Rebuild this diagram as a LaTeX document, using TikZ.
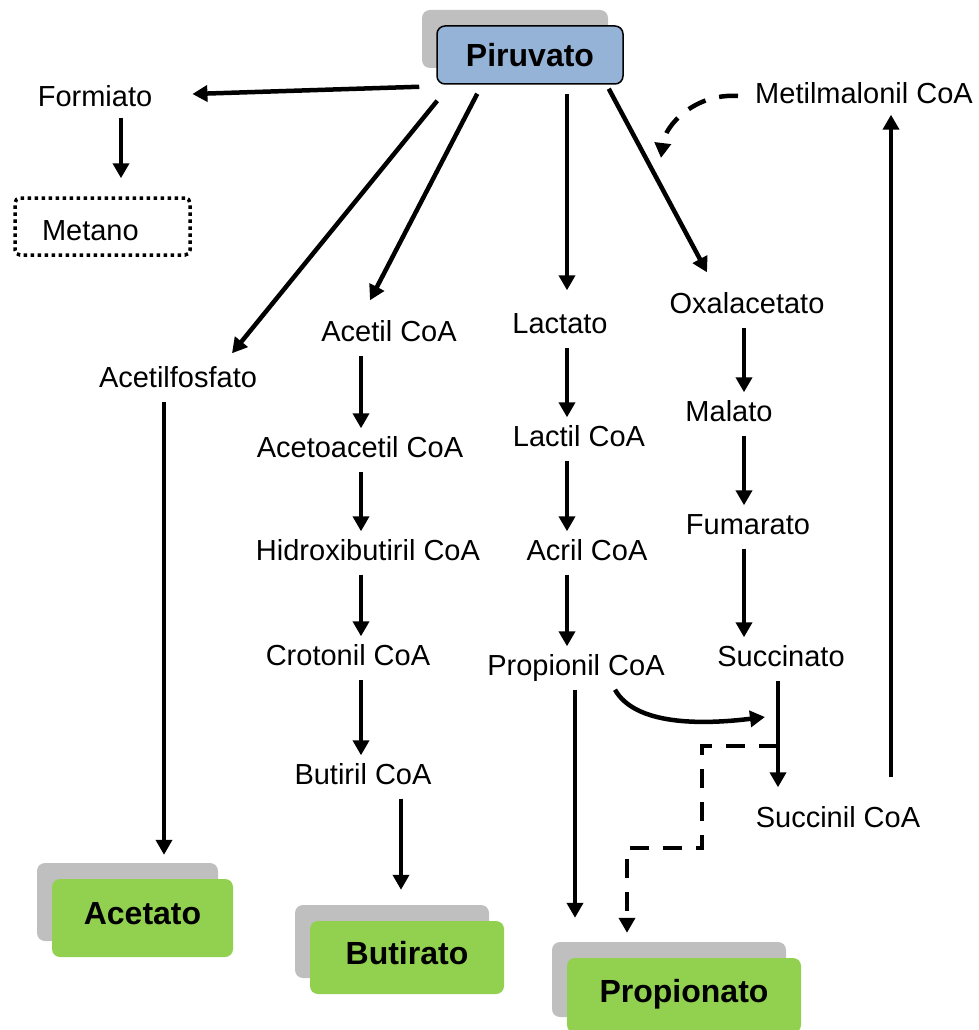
\documentclass[tikz,border=0pt]{standalone}
\usepackage{fontspec}
\setmainfont{Liberation Sans}
\usetikzlibrary{arrows.meta,shadows}

\definecolor{piruvblue}{HTML}{95B3D7}
\definecolor{prodgreen}{HTML}{92D050}
\definecolor{shadowgray}{HTML}{BFBFBF}

\begin{document}
\begin{tikzpicture}[x=1pt,y=-1pt,
  lbl/.style={font=\fontsize{29}{34}\selectfont, inner xsep=2pt, inner ysep=8pt, text height=21pt, text depth=6pt},
  box/.style={rounded corners=8pt, font=\fontsize{32}{38}\selectfont\bfseries,
    drop shadow={shadow xshift=-15pt,shadow yshift=16pt,fill=shadowgray,opacity=1}},
  product/.style={box, fill=prodgreen, text height=23pt, text depth=10pt},
  arr/.style={line width=4.5pt, -{Triangle[length=15pt,width=16pt]}},
  dasharr/.style={arr, dash pattern=on 19pt off 14pt}]
\useasboundingbox (0,0) rectangle (979,1030);

\node[box, draw, line width=1.5pt, fill=piruvblue, minimum width=186pt, minimum height=58pt] (piruvato) at (530,55) {Piruvato};
\node[product, minimum width=181pt, minimum height=78pt] (acetato) at (142.5,918) {Acetato};
\node[product, minimum width=194pt, minimum height=73pt] (butirato) at (407,957.5) {Butirato};
\node[product, minimum width=234pt, minimum height=75pt] (propionato) at (684,995.5) {Propionato};

\node[lbl] (formiato) at (95,99) {Formiato};
\node[lbl, draw, line width=3.5pt, dash pattern=on 3.5pt off 3.5pt, rounded corners=5pt, text height=34pt,
  minimum height=57pt, text width=121pt, inner xsep=27pt, align=left] (metano) at (102.5,226.5) {Metano};
\node[lbl] (acetilfosfato) at (178,380) {Acetilfosfato};
\node[lbl] (acetil) at (389,334) {Acetil CoA};
\node[lbl] (acetoacetil) at (360,450) {Acetoacetil CoA};
\node[lbl] (hidroxibutiril) at (368,553) {Hidroxibutiril CoA};
\node[lbl] (crotonil) at (348,658) {Crotonil CoA};
\node[lbl] (butiril) at (363,777) {Butiril CoA};
\node[lbl] (lactato) at (560,326) {Lactato};
\node[lbl] (lactil) at (579,439) {Lactil CoA};
\node[lbl] (acril) at (587,553) {Acril CoA};
\node[lbl] (propionil) at (576,668) {Propionil CoA};
\node[lbl] (oxalacetato) at (747,306) {Oxalacetato};
\node[lbl] (malato) at (729,414) {Malato};
\node[lbl] (fumarato) at (748,527) {Fumarato};
\node[lbl] (succinato) at (781,659) {Succinato};
\node[lbl] (succinil) at (838,820) {Succinil CoA};
\node[lbl] (metilmalonil) at (864,96) {Metilmalonil CoA};

\coordinate (oxalmid) at (661,158);
\coordinate (succjoin) at (765,717);
\coordinate (branch) at (778,746);

\draw[arr] ([xshift=-17pt,yshift=-2pt]piruvato.south west) -- ([xshift=38pt,yshift=5pt]formiato.east);
\draw[arr] ([xshift=26pt,yshift=3pt]formiato.south) -- ([xshift=18.5pt,yshift=18pt]metano.north);
\draw[arr] ([xshift=1pt,yshift=-16pt]piruvato.south west) -- ([xshift=54pt,yshift=5pt]acetilfosfato.north);
\draw[arr] ([xshift=41pt,yshift=-9pt]piruvato.south west) -- ([xshift=-19pt,yshift=12pt]acetil.north);
\draw[arr] ([xshift=37pt,yshift=-9pt]piruvato.south) -- ([xshift=7pt,yshift=14pt]lactato.north);
\draw[arr] ([xshift=-15pt,yshift=-4pt]piruvato.south east) -- ([xshift=-40pt,yshift=12pt]oxalacetato.north);

\draw[arr] ([xshift=-14pt]acetilfosfato.south) -- ([xshift=21.5pt,yshift=24pt]acetato.north);

\draw[arr] ([xshift=-28pt]acetil.south) -- ([xshift=1pt]acetoacetil.north);
\draw[arr] ([xshift=1pt]acetoacetil.south) -- ([xshift=-7pt]hidroxibutiril.north);
\draw[arr] ([xshift=-7pt]hidroxibutiril.south) -- ([xshift=13pt]crotonil.north);
\draw[arr] ([xshift=13pt]crotonil.south) -- ([xshift=-2pt]butiril.north);
\draw[arr] ([xshift=38pt]butiril.south) -- ([xshift=-6pt,yshift=31pt]butirato.north);

\draw[arr] ([xshift=7pt]lactato.south) -- ([xshift=-12pt]lactil.north);
\draw[arr] ([xshift=-12pt]lactil.south) -- ([xshift=-20pt]acril.north);
\draw[arr] ([xshift=-20pt]acril.south) -- ([xshift=-9pt]propionil.north);
\draw[arr] ([xshift=-1pt]propionil.south) -- ([xshift=-109pt,yshift=40pt]propionato.north);

\draw[arr] ([xshift=-3pt]oxalacetato.south) -- ([xshift=15pt]malato.north);
\draw[arr] ([xshift=15pt]malato.south) -- ([xshift=-4pt]fumarato.north);
\draw[arr] ([xshift=-4pt]fumarato.south) -- ([xshift=-37pt]succinato.north);
\draw[arr] ([xshift=-3pt]succinato.south) -- ([xshift=-60pt,yshift=11pt]succinil.north);
\draw[arr] ([xshift=53pt,yshift=21pt]succinil.north) -- ([xshift=27pt,yshift=3pt]metilmalonil.south);

\draw[dasharr] ([xshift=-15pt]metilmalonil.west) .. controls (695,93) and (665,125) .. (oxalmid);
\draw[arr] ([xshift=39pt]propionil.south) .. controls (635,725) and (700,725) .. (succjoin);
\draw[dasharr] (branch) -- ++(-76,0) |- ([xshift=-57pt,yshift=110pt]propionato.north) -- ([xshift=-57pt,yshift=25pt]propionato.north);
\end{tikzpicture}
\end{document}
